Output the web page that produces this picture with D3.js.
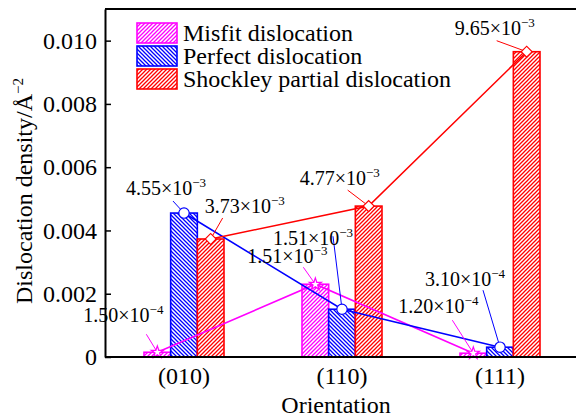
<!DOCTYPE html>
<html lang="en">
<head>
<meta charset="utf-8">
<script src="https://d3js.org/d3.v7.min.js"></script>
<style type="text/css">
body {
  margin: 0;
  background-color: #ffffff;
}
svg text {
  font-family: "Liberation Serif", "Times New Roman", serif;
  fill: #000;
}
</style>
</head>
<body>
<script type="text/javascript">

// Data
var categories = ["(010)", "(110)", "(111)"];
var seriesNames = ["Misfit dislocation", "Perfect dislocation", "Shockley partial dislocation"];
var misfit = [0.00015, 0.0023, 0.00012];
var perfect = [0.00455, 0.00151, 0.00031];
var shockley = [0.00373, 0.00477, 0.00965];
var yTicks = [0, 0.002, 0.004, 0.006, 0.008, 0.010];

// annotation texts (mantissa, exponent) per series, per category
var misfitLabels = [["1.50", "−4"], ["1.51", "−3"], ["1.20", "−4"]];
var perfectLabels = [["4.55", "−3"], ["1.51", "−3"], ["3.10", "−4"]];
var shockleyLabels = [["3.73", "−3"], ["4.77", "−3"], ["9.65", "−3"]];

var colors = ["#ff00ff", "#0000ff", "#ff0000"];
var serif = "'Liberation Serif', 'Times New Roman', serif";

// label placement relative to the marker: text x/y, leader start x/y
var labelOffsets = [
  [[-74, -30, -11, -18], [-68, -21, -12, -17], [-75, -40, -21, -33]],
  [[-58, -18, -11, -12], [-69, -64, -9, -73], [-75, -61, -17, -57]],
  [[-6, -26, 12, -21], [-69, -21, -21, -16], [-72, -17, -30, -11]]
];

var width = 576, height = 420;
var plotLeft = 105, plotRight = 579, plotTop = 9, plotBottom = 357;

var svg = d3.select("body").append("svg")
  .attr("width", width)
  .attr("height", height);

var defs = svg.append("defs");

// hatch patterns
function hatch(id, color, dir) {
  var p = defs.append("pattern")
    .attr("id", id)
    .attr("patternUnits", "userSpaceOnUse")
    .attr("width", 4)
    .attr("height", 4);
  p.append("rect").attr("width", 4).attr("height", 4).attr("fill", "#fff");
  var d = dir > 0
    ? "M-1,1 L1,-1 M0,4 L4,0 M3,5 L5,3"
    : "M-1,3 L1,5 M0,0 L4,4 M3,-1 L5,1";
  p.append("path").attr("d", d).attr("stroke", color).attr("stroke-width", 1.3);
}
hatch("h0", colors[0], 1);
hatch("h1", colors[1], -1);
hatch("h2", colors[2], 1);

var x = d3.scaleBand().domain(categories).range([plotLeft, plotRight]);
var xs = d3.scaleBand().domain([0, 1, 2]).range([-40, 40]);
var y = d3.scaleLinear().domain([0, 0.011]).range([plotBottom, plotTop]);

var allSeries = [misfit, perfect, shockley];
var allLabels = [misfitLabels, perfectLabels, shockleyLabels];

// bars
allSeries.forEach(function(vals, s) {
  svg.append("g").selectAll("rect")
    .data(vals)
    .enter().append("rect")
    .attr("x", function(d, i) { return x(categories[i]) + x.bandwidth() / 2 + xs(s); })
    .attr("y", function(d) { return y(d); })
    .attr("width", xs.bandwidth())
    .attr("height", function(d) { return plotBottom - y(d); })
    .attr("fill", "url(#h" + s + ")")
    .attr("stroke", colors[s])
    .attr("stroke-width", 1.6);
});

function px(s, i) { return x(categories[i]) + x.bandwidth() / 2 + xs(s) + xs.bandwidth() / 2; }

// lines
var line = d3.line()
  .x(function(d, i) { return px(d.s, i); })
  .y(function(d) { return y(d.v); });

allSeries.forEach(function(vals, s) {
  svg.append("path")
    .datum(vals.map(function(v) { return {s: s, v: v}; }))
    .attr("d", line)
    .attr("fill", "none")
    .attr("stroke", colors[s])
    .attr("stroke-width", 1.6);
});

// leaders and labels
allSeries.forEach(function(vals, s) {
  vals.forEach(function(v, i) {
    var mx = px(s, i), my = y(v);
    var o = labelOffsets[s][i];
    svg.append("line")
      .attr("x1", mx + o[2]).attr("y1", my + o[3])
      .attr("x2", mx).attr("y2", my)
      .attr("stroke", colors[s])
      .attr("stroke-width", 1);
    var t = svg.append("text")
      .attr("x", mx + o[0])
      .attr("y", my + o[1])
      .style("font-family", serif)
      .style("font-size", "20px");
    t.append("tspan").text(allLabels[s][i][0] + "×10");
    t.append("tspan")
      .attr("dy", -8)
      .style("font-size", "13px")
      .text(allLabels[s][i][1]);
  });
});

// markers
var star = d3.symbol().type(d3.symbolStar).size(45);
var circ = d3.symbol().type(d3.symbolCircle).size(85);
var diam = d3.symbol().type(d3.symbolSquare).size(60);
var shapes = [star, circ, diam];
var rot = [0, 0, 45];
allSeries.forEach(function(vals, s) {
  svg.append("g").selectAll("path")
    .data(vals)
    .enter().append("path")
    .attr("d", shapes[s])
    .attr("transform", function(d, i) {
      return "translate(" + px(s, i) + "," + y(d) + ") rotate(" + rot[s] + ")";
    })
    .attr("fill", "#fff")
    .attr("stroke", colors[s])
    .attr("stroke-width", 1.2);
});

// axes frame
svg.append("line").attr("x1", plotLeft).attr("x2", plotRight).attr("y1", plotTop).attr("y2", plotTop)
  .attr("stroke", "#000").attr("stroke-width", 2);
svg.append("line").attr("x1", plotLeft).attr("x2", plotRight).attr("y1", plotBottom).attr("y2", plotBottom)
  .attr("stroke", "#000").attr("stroke-width", 2);

var yAxis = svg.append("g")
  .attr("transform", "translate(" + plotLeft + ",0)")
  .call(d3.axisLeft(y).tickValues(yTicks).tickSizeInner(-6).tickSizeOuter(0).tickPadding(8)
    .tickFormat(function(d) { return d === 0 ? "0" : d3.format(".3f")(d); }));
yAxis.attr("font-family", null);
yAxis.select(".domain").attr("stroke-width", 2);
yAxis.selectAll(".tick line").attr("stroke-width", 1.5);
yAxis.selectAll("text")
  .style("font-family", serif)
  .style("font-size", "24px")
  .attr("fill", "#000");

// category labels
svg.append("g").selectAll("text")
  .data(categories)
  .enter().append("text")
  .attr("x", function(d) { return x(d) + x.bandwidth() / 2; })
  .attr("y", 384)
  .attr("text-anchor", "middle")
  .style("font-family", serif)
  .style("font-size", "24px")
  .text(function(d) { return d; });

// axis titles
svg.append("text")
  .attr("x", 336)
  .attr("y", 413)
  .attr("text-anchor", "middle")
  .style("font-family", serif)
  .style("font-size", "24px")
  .text("Orientation");

var yt = svg.append("text")
  .attr("transform", "translate(32,191) rotate(-90)")
  .attr("text-anchor", "middle")
  .style("font-family", serif)
  .style("font-size", "24px");
yt.append("tspan").text("Dislocation density/Å");
yt.append("tspan").attr("dy", -9).style("font-size", "15px").text("−2");

// legend
var legend = svg.append("g");
seriesNames.forEach(function(name, s) {
  var ly = 23 + s * 23;
  legend.append("rect")
    .attr("x", 137).attr("y", ly)
    .attr("width", 40).attr("height", 20)
    .attr("fill", "url(#h" + s + ")")
    .attr("stroke", colors[s])
    .attr("stroke-width", 1.6);
  legend.append("text")
    .attr("x", 183).attr("y", ly + 18)
    .style("font-family", serif)
    .style("font-size", "24px")
    .text(name);
});

</script>
</body>
</html>
